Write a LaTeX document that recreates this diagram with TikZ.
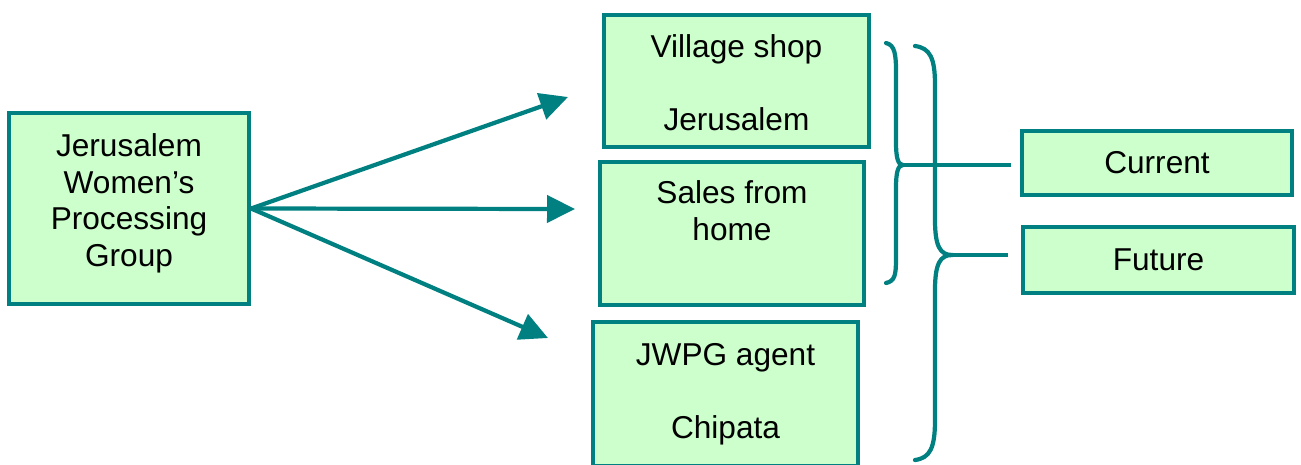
\documentclass[tikz,border=0pt]{standalone}
\usepackage{fontspec}
\setmainfont{Liberation Sans}
\usepackage{xcolor}
\usetikzlibrary{arrows.meta,positioning}
\definecolor{jteal}{HTML}{008080}
\definecolor{jgreen}{HTML}{CCFFCC}
\newcommand{\liftup}[2]{\raisebox{#1}[\height][\depth]{\begin{tabular}{@{}c@{}}#2\end{tabular}}}

\begin{document}
\begin{tikzpicture}[x=0.02cm,y=-0.02cm]
        \tikzstyle{every node}+=[inner sep=0pt]
        \tikzstyle{box}=[draw=jteal,fill=jgreen,line width=2.4pt,align=center,font=\fontsize{18pt}{20.8pt}\selectfont]
        \tikzstyle{link}=[draw=jteal,line width=2.4pt]
        \useasboundingbox (0,0) rectangle (1301,464);
        \clip (0,0) rectangle (1301,464);
        \node [box,minimum width=4.8cm,minimum height=3.82cm] (jwpg) at (129,208.5) {\liftup{0.09cm}{Jerusalem\\Women’s\\Processing\\Group}};
        \node [box,minimum width=5.3cm,minimum height=2.64cm] (shop) at (736.5,81) {\liftup{-0.12cm}{Village shop\\[20.8pt]Jerusalem}};
        \node [box,minimum width=5.28cm,minimum height=2.86cm] (home) at (732,233.5) {\liftup{0.38cm}{Sales from\\home}};
        \node [box,minimum width=5.3cm,minimum height=2.88cm] (agent) at (725.5,394) {JWPG agent\\[20.8pt]Chipata};
        \node [box,minimum width=5.4cm,minimum height=1.28cm] (cur) at (1157,163) {Current};
        \node [box,minimum width=5.42cm,minimum height=1.32cm] (fut) at (1158.5,260) {Future};
        \coordinate (shopin) at (568,97);
        \coordinate (homein) at (575,209);
        \coordinate (agentin) at (548,338);
        \draw [link,-{Triangle[length=0.56cm,width=0.54cm]}] (jwpg.east) -- (shopin);
        \draw [link,-{Triangle[length=0.56cm,width=0.54cm]}] (jwpg.east) -- (homein);
        \draw [link,-{Triangle[length=0.56cm,width=0.54cm]}] (jwpg.east) -- (agentin);
        % braces
        \coordinate (nowtip) at (903,165);
        \coordinate (latertip) at (952,255);
        \draw [link,line cap=round] (886,43) .. controls (895,45) and (896,55) .. (896,72) -- (896,142)
                .. controls (896,158) and (898,165) .. (nowtip)
                .. controls (898,165) and (896,172) .. (896,188) -- (896,258)
                .. controls (896,275) and (895,281) .. (886,283);
        \draw [link,line cap=round] (915,46) .. controls (930,48) and (935,58) .. (935,85) -- (935,220)
                .. controls (935,246) and (940,255) .. (latertip)
                .. controls (940,255) and (935,264) .. (935,290) -- (935,420)
                .. controls (935,448) and (930,458) .. (915,460);
        \draw [link,shorten >=0.18cm] (nowtip) -- (nowtip -| cur.west);
        \draw [link,shorten >=0.26cm] (latertip) -- (latertip -| fut.west);
\end{tikzpicture}
\end{document}
